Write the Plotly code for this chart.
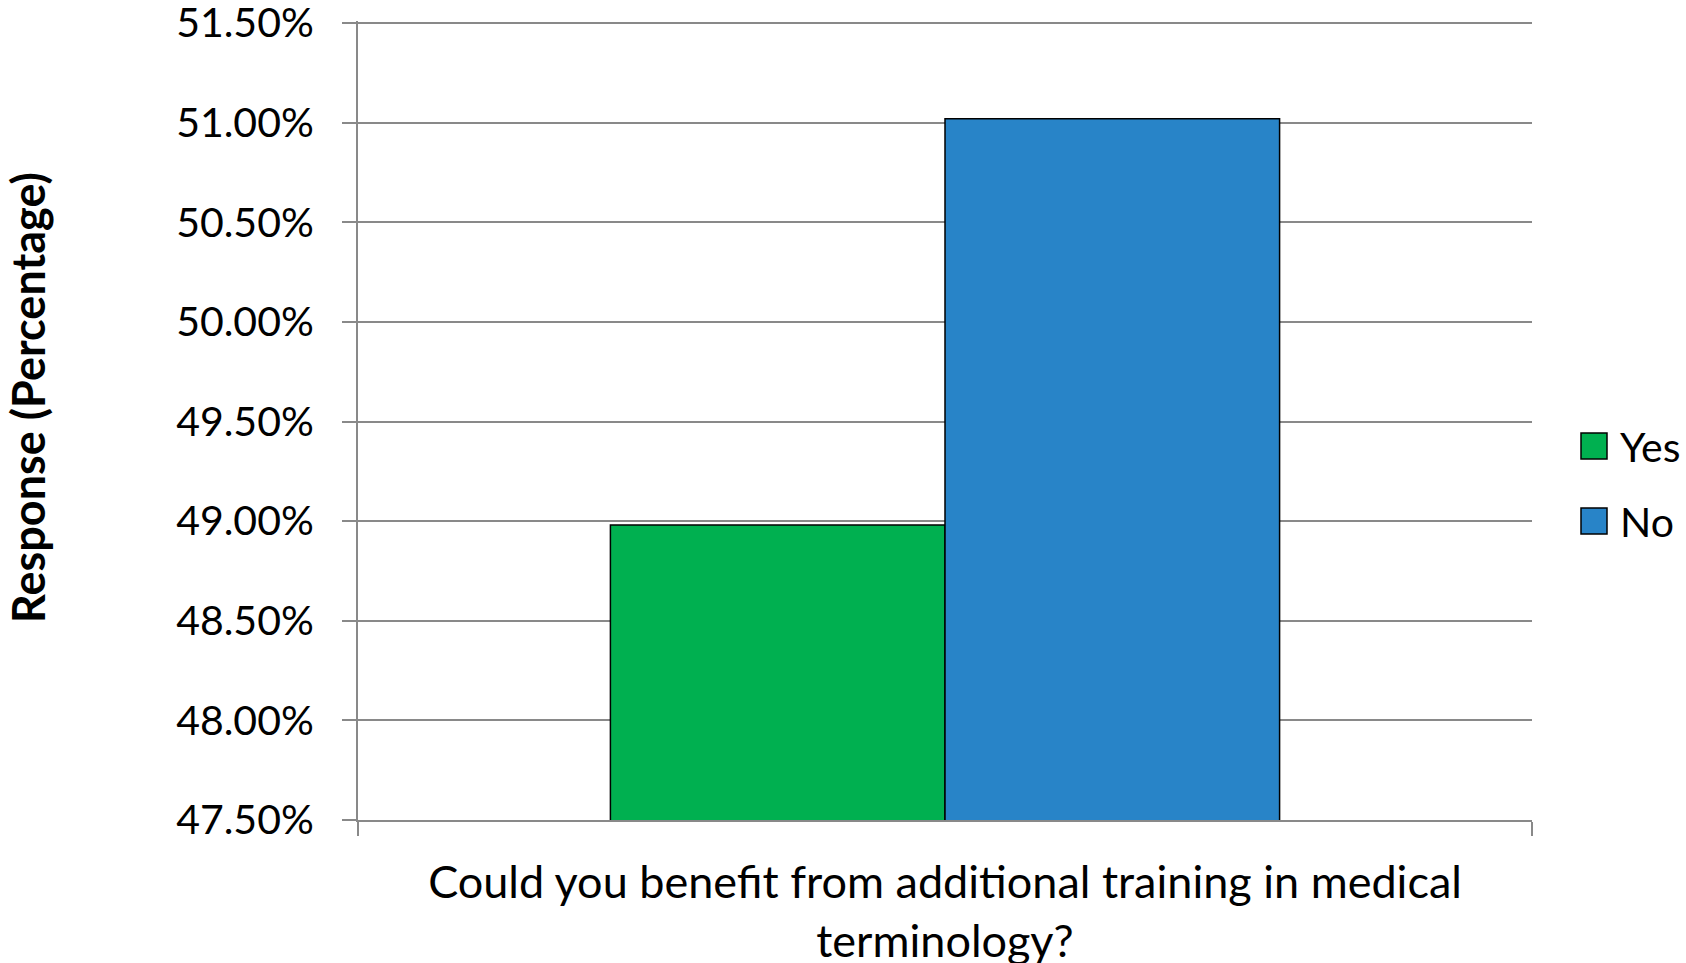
import plotly.graph_objects as go

# ---- data ----
categories = ["Could you benefit from additional training in medical<br>terminology?"]
series_names = ["Yes", "No"]
yes_values = [48.98]
no_values = [51.02]
series_colors = ["#00B050", "#2884C8"]
y_ticks = [47.5, 48.0, 48.5, 49.0, 49.5, 50.0, 50.5, 51.0, 51.5]
y_tick_labels = [f"{v:.2f}%" for v in y_ticks]
y_title = "Response (Percentage)"

W, H = 1686, 963
L, R, T, B = 358, 154, 21, 143
PW, PH = W - L - R, H - T - B

FONT = "Lato, 'Open Sans', sans-serif"

fig = go.Figure()
for name, vals, col in zip(series_names, [yes_values, no_values], series_colors):
    fig.add_trace(go.Bar(
        x=categories, y=vals, name=name,
        marker=dict(color=col, line=dict(color="#000000", width=1.5)),
        showlegend=False,
    ))

def px_x(px):
    return (px - L) / PW

def px_y(py):
    return (H - B - py) / PH

# manual legend (large squares like the reference)
legend_y_centers = [446, 521]
shapes = []
annotations = []
for name, col, cy in zip(series_names, series_colors, legend_y_centers):
    shapes.append(dict(type="rect", xref="paper", yref="paper",
                       x0=px_x(1581), x1=px_x(1607), y0=px_y(cy + 13), y1=px_y(cy - 13),
                       fillcolor=col, line=dict(color="#000000", width=1.5)))
    annotations.append(dict(xref="paper", yref="paper", x=px_x(1618), y=px_y(cy),
                            xanchor="left", yanchor="middle", text=name, showarrow=False,
                            font=dict(family=FONT, size=41, color="#000000")))

# y-axis title
annotations.append(dict(xref="paper", yref="paper", x=px_x(28), y=px_y(398),
                        xanchor="center", yanchor="middle", textangle=-90,
                        text=f"<b>{y_title}</b>", showarrow=False,
                        font=dict(family=FONT, size=45, color="#000000")))

fig.update_layout(
    width=W, height=H,
    margin=dict(l=L, r=R, t=T, b=B, pad=0),
    paper_bgcolor="white", plot_bgcolor="white",
    barmode="group", bargap=0.43, bargroupgap=0,
    font=dict(family=FONT, size=40, color="#000000"),
    shapes=shapes, annotations=annotations,
    showlegend=False,
)
fig.update_xaxes(
    showline=True, linecolor="#898989", linewidth=2,
    ticks="outside", tickson="boundaries", ticklen=14, tickcolor="#898989", tickwidth=2,
    tickfont=dict(family=FONT, size=45, color="#000000"),
    ticklabelstandoff=22,
    showgrid=False, automargin=False,
)
fig.update_yaxes(
    range=[47.5, 51.51], tickvals=y_ticks, ticktext=y_tick_labels,
    showline=True, linecolor="#898989", linewidth=2,
    ticks="outside", ticklen=14, tickcolor="#898989", tickwidth=2,
    ticklabelstandoff=20, ticklabeloverflow="allow",
    showgrid=True, gridcolor="#898989", gridwidth=2,
    zeroline=False,
    tickfont=dict(family=FONT, size=41, color="#000000"),
    automargin=False,
)

fig.write_html("out.html")
